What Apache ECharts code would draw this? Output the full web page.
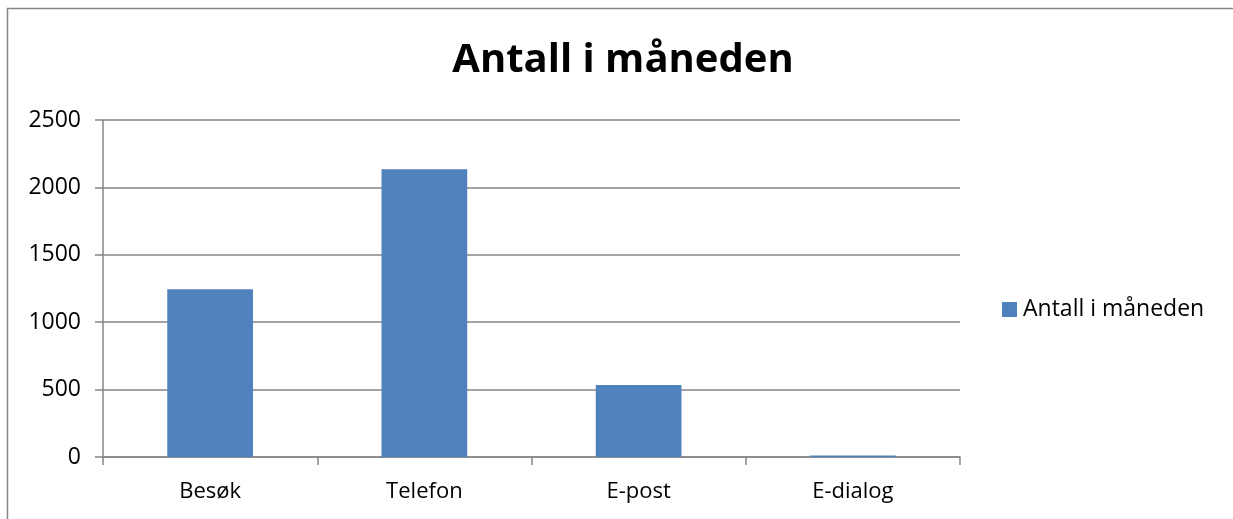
<!DOCTYPE html>
<html>
<head>
<meta charset="utf-8">
<script src="https://cdn.jsdelivr.net/npm/echarts@6/dist/echarts.min.js"></script>
<style>
html,body{margin:0;padding:0;background:#fff;}
#c{width:1233px;height:519px;}
</style>
</head>
<body>
<div id="c"></div>
<script>
const title = "Antall i måneden";
const seriesName = "Antall i måneden";
const categories = ["Besøk", "Telefon", "E-post", "E-dialog"];
const values = [1245, 2134, 535, 12];
const yTicks = { min: 0, max: 2500, interval: 500 };

const chart = echarts.init(document.getElementById('c'), null, {renderer: 'canvas'});
const font = '"Open Sans", sans-serif';
chart.setOption({
  animation: false,
  backgroundColor: '#fff',
  title: {
    text: title,
    left: 618, textAlign: 'center',
    top: 36,
    textStyle: { fontFamily: font, fontWeight: 'bold', fontSize: 40, color: '#000' }
  },
  legend: {
    data: [seriesName],
    left: 1002, top: 298, padding: 0,
    itemWidth: 15, itemHeight: 15, itemGap: 0,
    icon: 'rect',
    textStyle: { fontFamily: font, fontSize: 23, color: '#000', padding: [0,0,0,1] }
  },
  grid: { left: 103, right: 273, top: 120, bottom: 62, containLabel: false },
  xAxis: {
    type: 'category',
    data: categories,
    axisLine: { lineStyle: { color: '#868686', width: 1.5 } },
    axisTick: { show: true, length: 8, lineStyle: { color: '#868686', width: 1.5 }, alignWithLabel: false },
    axisLabel: { fontFamily: font, fontSize: 22, color: '#000', margin: 24 }
  },
  yAxis: {
    type: 'value',
    min: yTicks.min, max: yTicks.max, interval: yTicks.interval,
    axisLine: { show: true, lineStyle: { color: '#868686', width: 1.5 } },
    axisTick: { show: true, length: 8, lineStyle: { color: '#868686', width: 1.5 } },
    splitLine: { lineStyle: { color: '#868686', width: 1.5 } },
    axisLabel: { fontFamily: font, fontSize: 23, color: '#000', margin: 22, formatter: v => String(v) }
  },
  series: [{
    name: seriesName,
    type: 'bar',
    data: values,
    barWidth: '40%',
    itemStyle: { color: '#4F81BD' }
  }],
  graphic: [{
    type: 'rect',
    shape: { x: 7.5, y: 8.5, width: 1300, height: 600 },
    style: { fill: 'none', stroke: '#868686', lineWidth: 1.5 },
    silent: true
  }]
});
</script>
</body>
</html>
